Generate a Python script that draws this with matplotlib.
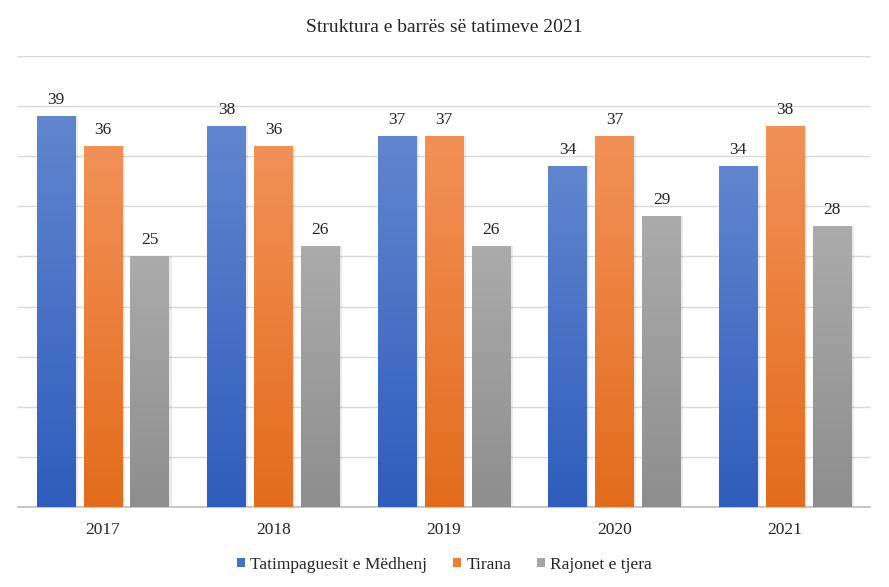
import numpy as np
import matplotlib.pyplot as plt
from matplotlib.colors import LinearSegmentedColormap

years = ["2017", "2018", "2019", "2020", "2021"]
tatimpaguesit = [39, 38, 37, 34, 34]
tirana = [36, 36, 37, 37, 38]
rajonet = [25, 26, 26, 29, 28]
series_names = ["Tatimpaguesit e Mëdhenj", "Tirana", "Rajonet e tjera"]

plt.rcParams['font.family'] = ['Liberation Serif', 'DejaVu Serif']

# top colour, bottom colour of the gradient per series
grads = [("#6186CF", "#2F5DBD"), ("#F29157", "#E36C1C"), ("#ABABAB", "#8E8E8E")]
solid = ["#4472C4", "#ED7D31", "#A5A5A5"]

fig = plt.figure(figsize=(8.89, 5.87), dpi=100)
ax = fig.add_axes([0.020, 0.1363, 0.959, 0.7683])

x = np.arange(len(years))
width = 0.228
offs = [-0.275, 0, 0.275]
ymax = 45

for k, vals in enumerate([tatimpaguesit, tirana, rajonet]):
    cmap = LinearSegmentedColormap.from_list("g%d" % k, [grads[k][1], grads[k][0]])
    bars = ax.bar(x + offs[k], vals, width, color="none", edgecolor="none", zorder=3)
    for b, v in zip(bars, vals):
        x0 = b.get_x()
        # soft shadow
        ax.bar(x0 + width / 2 + 0.008, v, width + 0.01, color="#000000", alpha=0.08,
               zorder=2.5, edgecolor="none")
        img = ax.imshow(np.linspace(0, 1, 256).reshape(-1, 1), cmap=cmap, aspect="auto",
                        origin="lower", extent=[x0, x0 + width, 0, v], zorder=3)
        img.set_clip_path(b)
        ax.text(x0 + width / 2, v + 0.8, str(v), ha="center", va="bottom", fontsize=12.5,
                color="#262626", zorder=4)
    ax.bar(0, 0, color=solid[k], label=series_names[k])

ax.set_xlim(-0.5, len(years) - 0.5)
ax.set_ylim(0, ymax)
ax.set_yticks(np.arange(0, ymax + 1, 5))
ax.set_yticklabels([])
ax.tick_params(axis="y", length=0)
ax.tick_params(axis="x", length=0, pad=11, labelsize=12.5, labelcolor="#262626")
ax.set_xticks(x)
ax.set_xticklabels(years)
ax.grid(axis="y", color="#D9D9D9", linewidth=1, zorder=0)
ax.set_axisbelow(True)
for s in ["top", "right", "left"]:
    ax.spines[s].set_visible(False)
ax.spines["bottom"].set_color("#BFBFBF")
ax.spines["bottom"].set_linewidth(1.2)

fig.suptitle("Struktura e barrës së tatimeve 2021", y=0.968, fontsize=14, color="#262626")
fig.legend(loc="lower center", bbox_to_anchor=(0.5, -0.002), ncol=3, frameon=False,
           fontsize=12.5, handlelength=0.45, handleheight=0.45, handletextpad=0.3,
           columnspacing=1.5, labelcolor="#262626")

fig.savefig("out.png", dpi=100)
